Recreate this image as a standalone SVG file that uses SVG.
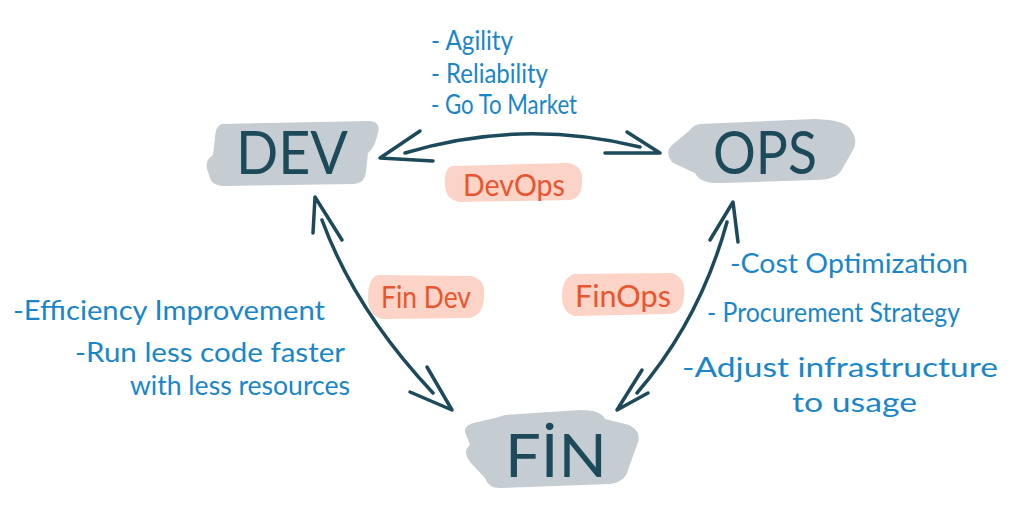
<svg xmlns="http://www.w3.org/2000/svg" width="1012" height="509" viewBox="0 0 1012 509">
<style>
.bg{fill:#ffffff}
.blob{fill:#c5cdd2}
.pink{fill:#fcd3c7}
.big{font-family:"Lato","Liberation Sans",sans-serif;font-weight:400;fill:#1d4a5b;font-size:60px;text-anchor:middle}
.mid{font-family:"Lato","Liberation Sans",sans-serif;font-weight:400;fill:#e8552f;font-size:30px;text-anchor:middle}
.note{font-family:"Lato","Liberation Sans",sans-serif;font-weight:400;fill:#1a86c8;font-size:26px}
.arr{fill:none;stroke:#1d4a5b;stroke-width:3.5;stroke-linecap:round;stroke-linejoin:round}
</style>
<rect class="bg" x="0" y="0" width="1012" height="509"/>
<g id="connectors">
<path class="arr" d="M 420 131 L 380 158 L 433 161"/>
<path class="arr" d="M 405 153 Q 520 118 640 147"/>
<path class="arr" d="M 627 132 L 660 153 L 605 153"/>
<path class="arr" d="M 313 233 L 315 197 L 342 240"/>
<path class="arr" d="M 322 220 Q 355 310 433 393"/>
<path class="arr" d="M 427 367 L 452 410 L 410 392"/>
<path class="arr" d="M 738 242 L 733 202 L 710 240"/>
<path class="arr" d="M 727 222 Q 700 320 637 393"/>
<path class="arr" d="M 642 370 L 617 410 L 648 393"/>
</g>
<g id="dev">
<path class="blob" d="M 222 124 L 370 121 Q 381 122 378 133 L 375 143 Q 372 150 368 153 L 366 172 Q 365 183 354 184 L 226 186 Q 212 186 210 178 L 207 169 Q 205 160 213 155 L 215 137 Q 216 125 222 124 Z"/>
<text class="big" x="292" y="174" textLength="112" lengthAdjust="spacingAndGlyphs">DEV</text>
</g>
<g id="ops">
<path class="blob" d="M 700 124 L 815 119 Q 846 120 851 130 Q 859 141 852 152 L 841 171 Q 835 180 815 180 L 722 183 Q 700 184 695 173 L 673 163 Q 664 153 672 145 L 689 131 Q 693 125 700 124 Z"/>
<text class="big" x="765" y="174" textLength="104" lengthAdjust="spacingAndGlyphs">OPS</text>
</g>
<g id="fin">
<path class="blob" d="M 505 415 L 580 410 Q 601 410 605 419 L 629 425 Q 643 432 637 445 L 628 470 Q 625 482 610 484 L 500 488 Q 488 488 485 478 L 470 462 Q 462 451 470 445 L 465 432 Q 464 424 478 422 L 495 418 Z"/>
<text class="big" x="556" y="477" textLength="102" lengthAdjust="spacingAndGlyphs">FİN</text>
</g>
<g id="devops">
<path class="pink" d="M 452 166 L 568 163 Q 584 166 582 182 Q 582 198 570 200 L 460 202 Q 446 200 445 186 Q 444 168 452 166 Z"/>
<text class="mid" x="514" y="196" textLength="102" lengthAdjust="spacingAndGlyphs">DevOps</text>
</g>
<g id="findev">
<path class="pink" d="M 378 275 L 472 276 Q 486 280 484 296 Q 484 314 470 318 L 382 319 Q 368 315 368 298 Q 368 278 378 275 Z"/>
<text class="mid" x="426" y="308" textLength="90" lengthAdjust="spacingAndGlyphs">Fin Dev</text>
</g>
<g id="finops">
<path class="pink" d="M 574 274 L 672 273 Q 686 278 684 294 Q 684 312 670 314 L 574 316 Q 562 312 562 296 Q 562 278 574 274 Z"/>
<text class="mid" x="623" y="307" textLength="96" lengthAdjust="spacingAndGlyphs">FinOps</text>
</g>
<g id="notes-top">
<text class="note" x="431" y="50" font-size="24" textLength="82" lengthAdjust="spacingAndGlyphs">- Agility</text>
<text class="note" x="431" y="83" font-size="24" textLength="117" lengthAdjust="spacingAndGlyphs">- Reliability</text>
<text class="note" x="431" y="114" font-size="24" textLength="146" lengthAdjust="spacingAndGlyphs">- Go To Market</text>
</g>
<g id="notes-left">
<text class="note" x="13" y="320" textLength="312" lengthAdjust="spacingAndGlyphs">-Efficiency Improvement</text>
<text class="note" x="75" y="362" textLength="270" lengthAdjust="spacingAndGlyphs">-Run less code faster</text>
<text class="note" x="130" y="395" textLength="220" lengthAdjust="spacingAndGlyphs">with less resources</text>
</g>
<g id="notes-right">
<text class="note" x="730" y="273" textLength="238" lengthAdjust="spacingAndGlyphs">-Cost Optimization</text>
<text class="note" x="707" y="322" textLength="253" lengthAdjust="spacingAndGlyphs">- Procurement Strategy</text>
<text class="note" x="682" y="377" textLength="316" lengthAdjust="spacingAndGlyphs">-Adjust infrastructure</text>
<text class="note" x="792" y="412" textLength="125" lengthAdjust="spacingAndGlyphs">to usage</text>
</g>
</svg>
